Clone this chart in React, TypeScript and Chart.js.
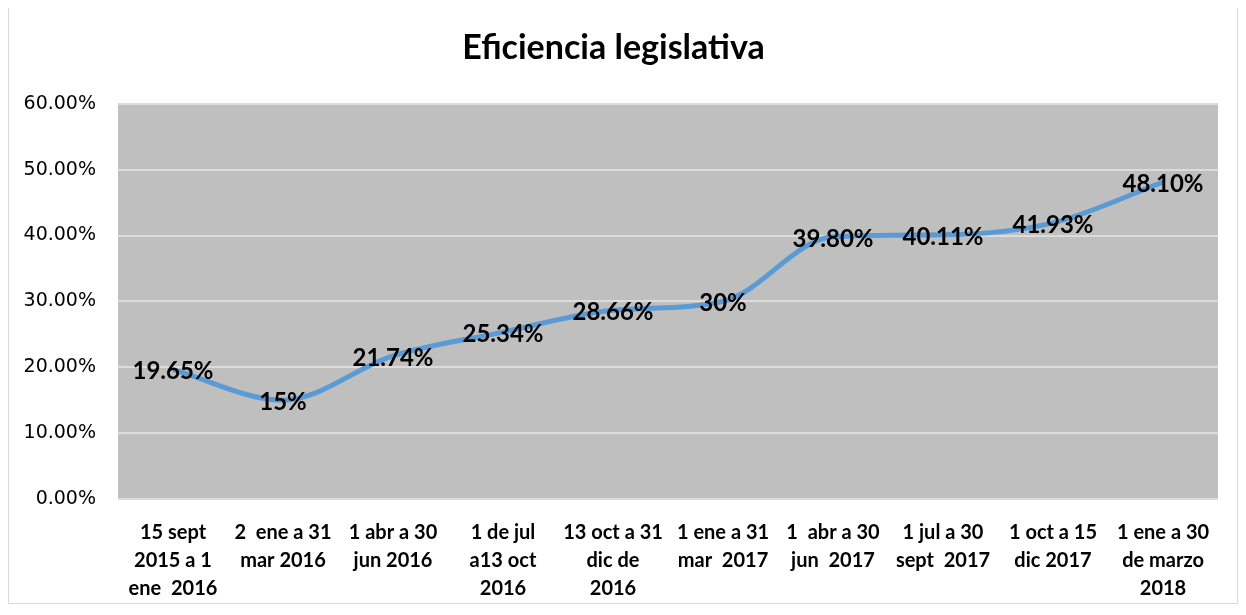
import React, { useEffect, useRef } from "react";
import { Chart, registerables } from "chart.js";

Chart.register(...registerables);

const categories: string[][] = [
  ["15 sept", "2015 a 1", "ene  2016"],
  ["2  ene a 31", "mar 2016"],
  ["1 abr a 30", "jun 2016"],
  ["1 de jul", "a13 oct", "2016"],
  ["13 oct a 31", "dic de", "2016"],
  ["1 ene a 31", "mar  2017"],
  ["1  abr a 30", "jun  2017"],
  ["1 jul a 30", "sept  2017"],
  ["1 oct a 15", "dic 2017"],
  ["1 ene a 30", "de marzo", "2018"],
];

const eficiencia: number[] = [0.1965, 0.15, 0.2174, 0.2534, 0.2866, 0.3, 0.398, 0.4011, 0.4193, 0.481];

const yTicks: number[] = [0, 0.1, 0.2, 0.3, 0.4, 0.5, 0.6];

const TITLE = "Eficiencia legislativa";

function fmtLabel(v: number): string {
  const p = Math.round(v * 10000) / 100;
  if (Number.isInteger(p)) return p + "%";
  return p.toFixed(2) + "%";
}

const plotBg = {
  id: "plotBg",
  beforeDraw(chart: any) {
    const { ctx, chartArea } = chart;
    ctx.save();
    ctx.fillStyle = "#bfbfbf";
    ctx.fillRect(chartArea.left, chartArea.top, chartArea.right - chartArea.left, chartArea.bottom - chartArea.top);
    ctx.restore();
  },
};

const dataLabels = {
  id: "dataLabels",
  afterDatasetsDraw(chart: any) {
    const { ctx } = chart;
    const meta = chart.getDatasetMeta(0);
    const data = chart.data.datasets[0].data as number[];
    ctx.save();
    ctx.font = "bold 24px Lato, sans-serif";
    ctx.fillStyle = "#000000";
    ctx.textAlign = "center";
    ctx.textBaseline = "middle";
    meta.data.forEach((pt: any, i: number) => {
      ctx.fillText(fmtLabel(data[i]), pt.x, pt.y + 2);
    });
    ctx.restore();
  },
};

export default function App() {
  const ref = useRef<HTMLCanvasElement | null>(null);
  useEffect(() => {
    if (!ref.current) return;
    const chart = new Chart(ref.current, {
      type: "line",
      data: {
        labels: categories,
        datasets: [
          {
            label: "Eficiencia",
            data: eficiencia,
            borderColor: "#5b9bd5",
            borderWidth: 5,
            pointRadius: 0,
            cubicInterpolationMode: "monotone",
            fill: false,
          },
        ],
      },
      options: {
        animation: false,
        responsive: false,
        maintainAspectRatio: false,
        layout: { padding: { left: 0, right: 19, top: 0, bottom: 0 } },
        plugins: {
          legend: { display: false },
          tooltip: { enabled: false },
          title: {
            display: true,
            text: TITLE,
            color: "#000000",
            font: { family: "Lato, sans-serif", size: 34, weight: "bold" },
            padding: { top: 24, bottom: 35 },
          },
        },
        scales: {
          x: {
            offset: true,
            grid: { display: false },
            border: { display: false },
            ticks: {
              color: "#000000",
              autoSkip: false,
              maxRotation: 0,
              minRotation: 0,
              padding: 11,
              font: { family: "Lato, sans-serif", size: 20, weight: "bold", lineHeight: 1.42 },
            },
            afterFit(scale: any) {
              scale.height = 104;
            },
          },
          y: {
            min: 0,
            max: 0.6,
            afterBuildTicks(scale: any) {
              scale.ticks = yTicks.map((v) => ({ value: v }));
            },
            grid: { color: "#dcdcdc", lineWidth: 2, drawTicks: false },
            border: { display: false },
            ticks: {
              color: "#000000",
              padding: 22,
              font: { family: "'DejaVu Sans', sans-serif", size: 19 },
              callback: (v: any) => (Number(v) * 100).toFixed(2) + "%",
            },
            afterFit(scale: any) {
              scale.width = 109;
            },
          },
        },
      },
      plugins: [plotBg, dataLabels],
    });
    return () => chart.destroy();
  }, []);
  return (
    <div style={{ width: 1230, height: 601, border: "1px solid #d9d9d9", boxSizing: "border-box", marginTop: -5 }}>
      <canvas ref={ref} width={1228} height={599} style={{ display: "block" }} />
    </div>
  );
}
